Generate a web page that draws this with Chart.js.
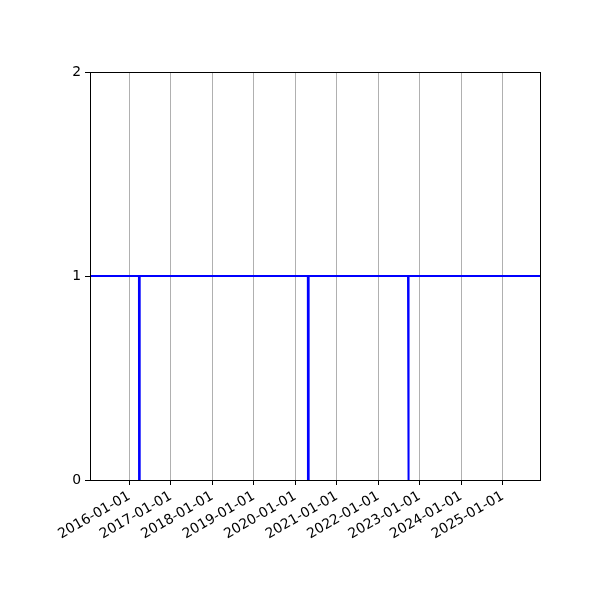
<!DOCTYPE html>
<html>
<head>
<meta charset="utf-8">
<script src="https://cdn.jsdelivr.net/npm/chart.js@4"></script>
<style>
html,body{margin:0;padding:0;background:#fff;}
#wrap{width:600px;height:600px;}
</style>
</head>
<body>
<div id="wrap"><canvas id="c" width="600" height="600"></canvas></div>
<script>
// Data
const dates = ['2015-01-20','2016-03-26','2016-03-27','2016-04-01','2016-04-02','2020-04-21','2020-04-22','2020-04-27','2020-04-28','2022-09-20','2022-09-21','2022-09-26','2022-09-27','2025-11-25'];
const values = [1,1,0,0,1,1,0,0,1,1,0,0,1,1];
const xTickLabels = ['2016-01-01','2017-01-01','2018-01-01','2019-01-01','2020-01-01','2021-01-01','2022-01-01','2023-01-01','2024-01-01','2025-01-01'];
const yTicks = [0,1,2];

const toMs = s => { const p = s.split('-').map(Number); return Date.UTC(p[0], p[1]-1, p[2]); };
const fmt = v => { const d = new Date(v); const m = String(d.getUTCMonth()+1).padStart(2,'0'); const dd = String(d.getUTCDate()).padStart(2,'0'); return d.getUTCFullYear()+'-'+m+'-'+dd; };

const points = dates.map((d,i)=>({x: toMs(d), y: values[i]}));
const xTickVals = xTickLabels.map(toMs);

const frame = {
  id: 'frame',
  afterDraw(chart){
    const a = chart.chartArea, ctx = chart.ctx;
    ctx.save();
    ctx.strokeStyle = '#000';
    ctx.lineWidth = 1;
    ctx.strokeRect(Math.round(a.left)+0.5, Math.round(a.top)+0.5, Math.round(a.right-a.left), Math.round(a.bottom-a.top));
    ctx.restore();
  }
};

const font = {family: 'DejaVu Sans', size: 13.9};

new Chart(document.getElementById('c'), {
  type: 'line',
  data: { datasets: [{ data: points, borderColor: '#0000ff', borderWidth: 2, pointRadius: 0, fill: false, tension: 0 }] },
  options: {
    responsive: false,
    animation: false,
    devicePixelRatio: 1,
    layout: { padding: { left: 0, top: 72, right: 60, bottom: 0 } },
    plugins: { legend: { display: false }, tooltip: { enabled: false } },
    scales: {
      x: {
        type: 'linear',
        min: toMs(dates[0]),
        max: toMs(dates[dates.length-1]),
        afterBuildTicks: s => { s.ticks = xTickVals.map(v=>({value:v})); },
        afterFit: s => { s.height = 120; },
        ticks: { callback: v => fmt(v), minRotation: 30, maxRotation: 30, color: '#000', font, padding: 3, autoSkip: false },
        grid: { color: '#b0b0b0', lineWidth: 1, tickColor: '#000', tickLength: 5, drawTicks: true },
        border: { display: false }
      },
      y: {
        min: 0, max: 2,
        afterBuildTicks: s => { s.ticks = yTicks.map(v=>({value:v})); },
        afterFit: s => { s.width = 90; },
        ticks: { color: '#000', font, padding: 4 },
        grid: { drawOnChartArea: false, tickColor: '#000', tickLength: 5 },
        border: { display: false }
      }
    }
  },
  plugins: [frame]
});
</script>
</body>
</html>
